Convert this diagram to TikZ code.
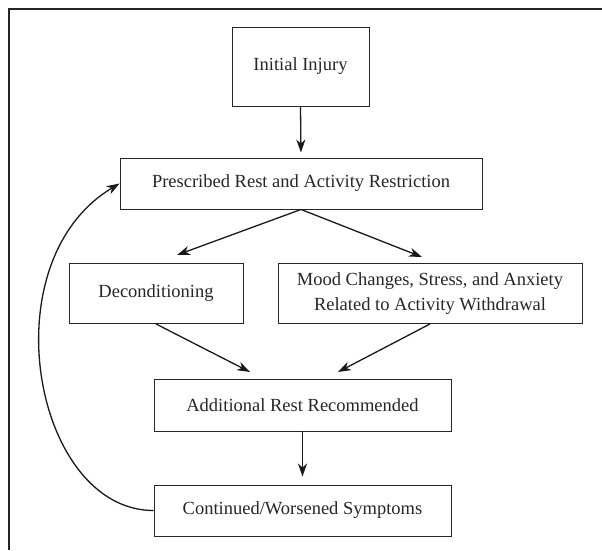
\documentclass[tikz,border=0pt]{standalone}
\usepackage{fontspec}
\setmainfont{Liberation Serif}
\usetikzlibrary{arrows.meta}
\begin{document}
\begin{tikzpicture}[x=1pt,y=-1pt,
  box/.style={draw=black!85, line width=0.9pt, align=center, inner sep=0pt,
    font=\fontsize{18.5}{24.5}\selectfont, text=black!85},
  conn/.style={draw=black!90, line width=1.3pt,
    -{Stealth[length=13pt,width=9pt,inset=4pt]}}]
\useasboundingbox (0,0) rectangle (602,550);
% frame (top and left only)
\draw[line width=1.6pt, black!85] (602,9) -- (9,9) -- (9,550);
% boxes
\node[box, minimum width=137pt, minimum height=79pt] (init) at (300.5,66.5) {Initial Injury};
\node[box, minimum width=362pt, minimum height=51pt] (pres) at (301,183.5) {Prescribed Rest and Activity Restriction};
\node[box, minimum width=174pt, minimum height=60pt] (decon) at (156,293.5) {Deconditioning};
\node[box, minimum width=304pt, minimum height=60pt] (mood) at (430,293.5) {Mood Changes, Stress, and Anxiety\\Related to Activity Withdrawal};
\node[box, minimum width=297pt, minimum height=52pt] (addl) at (302.5,405) {Additional Rest Recommended};
\node[box, minimum width=297pt, minimum height=51pt] (cont) at (302.5,510.5) {Continued/Worsened Symptoms};
% free ends
\coordinate (tDecon) at (177,255);
\coordinate (tMood) at (422,257);
\coordinate (tAddlL) at (250,372);
\coordinate (tAddlR) at (338,372);
% connectors
\draw[conn, shorten >=5pt] (init.south) -- (pres.north);
\draw[conn] (pres.south) -- (tDecon);
\draw[conn] (pres.south) -- (tMood);
\draw[conn] (decon.south) -- (tAddlL);
\draw[conn] (mood.south) -- (tAddlR);
\draw[conn, shorten >=8pt] (addl.south) -- (cont.north);
\draw[conn] (cont.west) .. controls (34,510.5) and (-12,262) .. (pres.west);
\end{tikzpicture}
\end{document}
